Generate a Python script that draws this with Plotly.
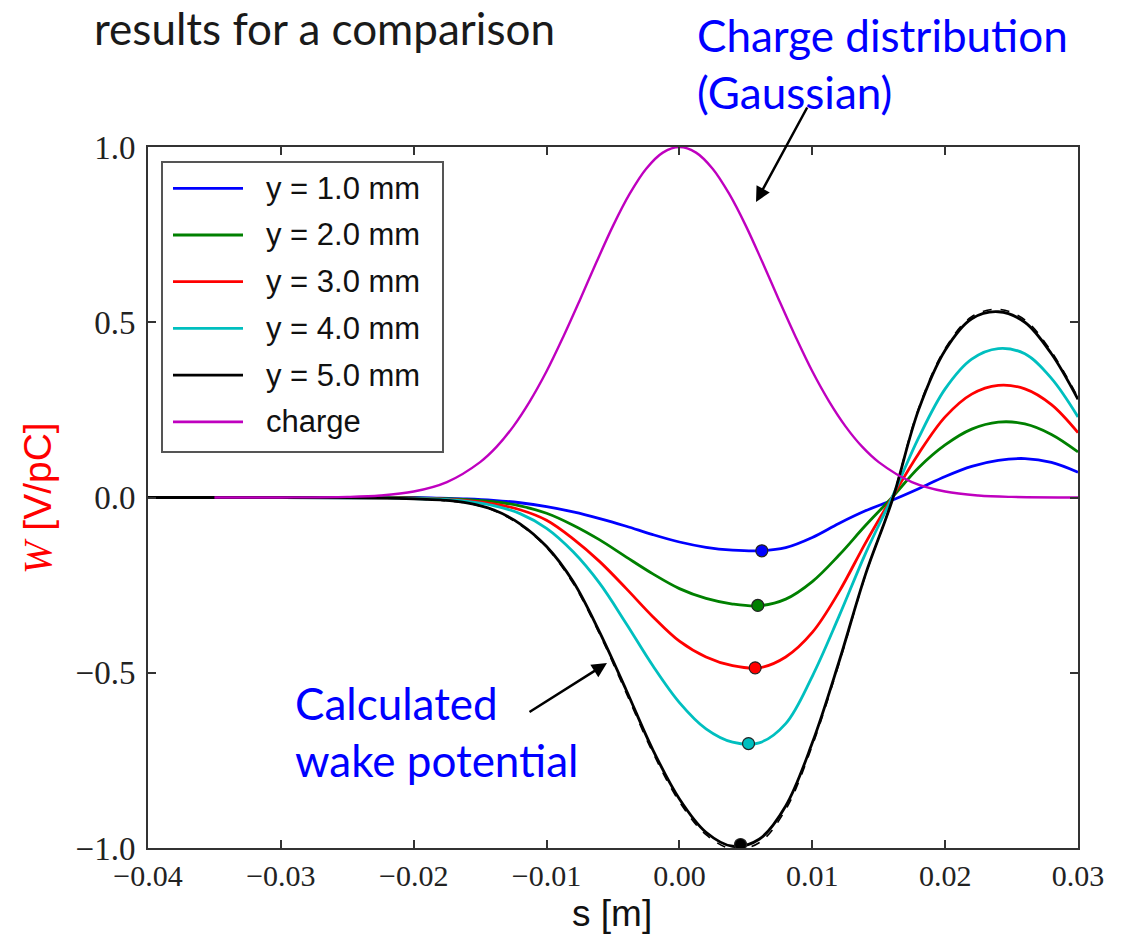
import plotly.graph_objects as go

# ---------------- data ----------------
s_w = [-0.040, -0.030, -0.025, -0.022, -0.020, -0.018, -0.016, -0.014, -0.012,
       -0.010, -0.008, -0.006, -0.004, -0.002, 0.000, 0.002, 0.004, 0.006,
       0.008, 0.010, 0.012, 0.014, 0.016, 0.018, 0.020, 0.022, 0.024, 0.026,
       0.028, 0.030]

w_y1 = [0.0, 0.0, 0.0, 0.0, 0.0, -0.002, -0.004, -0.008, -0.015,
        -0.026, -0.041, -0.060, -0.082, -0.106, -0.127, -0.142, -0.150, -0.152,
        -0.143, -0.114, -0.074, -0.038, -0.008, 0.025, 0.060, 0.089, 0.106, 0.111,
        0.100, 0.072]
w_y2 = [0.0, 0.0, 0.0, 0.0, -0.001, -0.003, -0.006, -0.012, -0.024,
        -0.045, -0.079, -0.121, -0.170, -0.218, -0.260, -0.288, -0.304, -0.309,
        -0.290, -0.240, -0.165, -0.080, 0.000, 0.085, 0.150, 0.195, 0.215, 0.210,
        0.180, 0.130]
w_y3 = [0.0, 0.0, 0.0, -0.001, -0.002, -0.004, -0.009, -0.018, -0.035,
        -0.065, -0.118, -0.183, -0.260, -0.340, -0.410, -0.455, -0.480, -0.486,
        -0.455, -0.385, -0.270, -0.130, 0.000, 0.125, 0.230, 0.295, 0.320, 0.310,
        0.265, 0.185]
w_y4 = [0.0, 0.0, -0.001, -0.001, -0.003, -0.005, -0.011, -0.023, -0.046,
        -0.088, -0.155, -0.245, -0.360, -0.480, -0.585, -0.660, -0.698, -0.700,
        -0.645, -0.510, -0.340, -0.160, 0.000, 0.170, 0.310, 0.395, 0.425, 0.410,
        0.340, 0.230]
w_y5 = [0.0, 0.0, -0.001, -0.002, -0.004, -0.007, -0.015, -0.035, -0.075,
        -0.140, -0.240, -0.385, -0.550, -0.720, -0.860, -0.955, -0.995, -0.975,
        -0.880, -0.700, -0.470, -0.220, -0.010, 0.250, 0.420, 0.510, 0.530, 0.500,
        0.410, 0.280]
# comparison (dashed) for y = 5.0 mm
w_y5_ref = [0.0, 0.0, -0.001, -0.002, -0.004, -0.008, -0.016, -0.037, -0.078,
            -0.143, -0.245, -0.390, -0.558, -0.728, -0.868, -0.962, -1.003, -0.985,
            -0.890, -0.708, -0.475, -0.222, -0.008, 0.254, 0.425, 0.516, 0.537, 0.507,
            0.416, 0.285]

s_q = [-0.035, -0.030, -0.025, -0.0225, -0.020, -0.0175, -0.015, -0.01375,
       -0.0125, -0.01125, -0.010, -0.00875, -0.0075, -0.00625, -0.005, -0.00375,
       -0.0025, -0.00125, 0.000, 0.00125, 0.0025, 0.00375, 0.005, 0.00625,
       0.0075, 0.00875, 0.010, 0.01125, 0.0125, 0.01375, 0.015, 0.0175,
       0.020, 0.0225, 0.025, 0.030]
charge = [0.0, 0.0001, 0.0017, 0.0057, 0.017, 0.044, 0.101, 0.145,
          0.203, 0.275, 0.360, 0.458, 0.563, 0.671, 0.775, 0.866,
          0.938, 0.984, 1.000, 0.984, 0.938, 0.866, 0.775, 0.671,
          0.563, 0.458, 0.360, 0.275, 0.203, 0.145, 0.101, 0.044,
          0.017, 0.0057, 0.0017, 0.0001]

min_s = [0.0062, 0.0059, 0.0057, 0.0052, 0.0046]
min_w = [-0.152, -0.308, -0.486, -0.702, -0.990]

names = ["y = 1.0 mm", "y = 2.0 mm", "y = 3.0 mm", "y = 4.0 mm", "y = 5.0 mm", "charge"]
colors = ["#0000ff", "#008000", "#ff0000", "#00bfbf", "#000000", "#bf00bf"]

x_ticks = [-0.04, -0.03, -0.02, -0.01, 0.00, 0.01, 0.02, 0.03]
y_ticks = [-1.0, -0.5, 0.0, 0.5, 1.0]

# ---------------- layout geometry ----------------
FW, FH = 1124, 939
L, R, T, B = 148, 1078, 147, 848
PW, PH = R - L, B - T


def px_x(p):
    return (p - L) / PW


def px_y(p):
    return (B - p) / PH


fig = go.Figure()

series = [w_y1, w_y2, w_y3, w_y4, w_y5]
for vals, col in zip(series, colors[:5]):
    fig.add_trace(go.Scatter(x=s_w, y=vals, mode="lines",
                             line=dict(color=col, width=2.8, shape="spline", smoothing=1.0),
                             showlegend=False, hoverinfo="skip"))

fig.add_trace(go.Scatter(x=s_w, y=w_y5_ref, mode="lines",
                         line=dict(color="#000000", width=1.6, dash="dash",
                                   shape="spline", smoothing=1.0),
                         showlegend=False, hoverinfo="skip"))

fig.add_trace(go.Scatter(x=s_q, y=charge, mode="lines",
                         line=dict(color=colors[5], width=2.4, shape="spline", smoothing=1.0),
                         showlegend=False, hoverinfo="skip"))

fig.add_trace(go.Scatter(x=min_s, y=min_w, mode="markers",
                         marker=dict(color=colors[:5], size=12,
                                     line=dict(color="#222222", width=1.2)),
                         showlegend=False, hoverinfo="skip"))

axis_common = dict(showline=True, linecolor="#333333", linewidth=2, mirror="allticks",
                   ticks="inside", ticklen=8, tickwidth=2, tickcolor="#333333",
                   showgrid=False, zeroline=False)

fig.update_xaxes(range=[-0.04, 0.03], tickvals=x_ticks, tickformat=".2f",
                 tickfont=dict(family="Liberation Serif", size=30, color="#222222"),
                 **axis_common)
fig.update_yaxes(range=[-1.0, 1.0], tickvals=y_ticks, tickformat=".1f",
                 ticklabelstandoff=4,
                 tickfont=dict(family="Liberation Serif", size=33, color="#222222"),
                 **axis_common)

shapes = []
annotations = []

# manual legend (matplotlib style)
shapes.append(dict(type="rect", xref="paper", yref="paper",
                   x0=px_x(162), x1=px_x(443), y0=px_y(452), y1=px_y(162),
                   line=dict(color="#555555", width=2), fillcolor="white", layer="above"))
row0, row_gap = 188.3, 46.7
for i, (nm, col) in enumerate(zip(names, colors)):
    yy = row0 + i * row_gap
    shapes.append(dict(type="line", xref="paper", yref="paper",
                       x0=px_x(173), x1=px_x(243), y0=px_y(yy), y1=px_y(yy),
                       line=dict(color=col, width=2.8), layer="above"))
    annotations.append(dict(xref="paper", yref="paper", x=px_x(264), y=px_y(yy),
                            text=nm, showarrow=False, xanchor="left", yanchor="middle",
                            font=dict(family="Liberation Sans", size=31, color="#111111")))

# axis titles
annotations.append(dict(xref="paper", yref="paper", x=px_x(612), y=px_y(913),
                        text="s [m]", showarrow=False, xanchor="center", yanchor="middle",
                        font=dict(family="Liberation Sans", size=37, color="#111111")))
annotations.append(dict(xref="paper", yref="paper", x=px_x(38), y=px_y(498),
                        text="<span style='font-family:Liberation Serif'><i>W</i></span> [V/pC]",
                        textangle=-90, showarrow=False, xanchor="center", yanchor="middle",
                        font=dict(family="Liberation Sans", size=39, color="#ff0000")))

# slide texts
annotations.append(dict(xref="paper", yref="paper", x=px_x(92), y=px_y(28),
                        text="results for a comparison", showarrow=False,
                        xanchor="left", yanchor="middle",
                        font=dict(family="Lato", size=44, color="#1a1a1a")))
annotations.append(dict(xref="paper", yref="paper", x=px_x(695), y=px_y(64),
                        text="Charge distribution<br>(Gaussian)", showarrow=False,
                        xanchor="left", yanchor="middle", align="left",
                        font=dict(family="Lato", size=44, color="#0000ff")))
annotations.append(dict(xref="paper", yref="paper", x=px_x(293), y=px_y(731),
                        text="Calculated<br>wake potential", showarrow=False,
                        xanchor="left", yanchor="middle", align="left",
                        font=dict(family="Lato", size=44, color="#0000ff")))

# arrows
annotations.append(dict(xref="paper", yref="paper", x=px_x(756), y=px_y(202),
                        ax=52, ay=-96, text="", showarrow=True, arrowhead=2,
                        arrowsize=1.2, arrowwidth=2.5, arrowcolor="#000000"))
annotations.append(dict(xref="paper", yref="paper", x=px_x(607), y=px_y(663),
                        ax=-79, ay=50, text="", showarrow=True, arrowhead=2,
                        arrowsize=1.2, arrowwidth=2.5, arrowcolor="#000000"))

fig.update_layout(width=FW, height=FH,
                  margin=dict(l=L, r=FW - R, t=T, b=FH - B, pad=0),
                  paper_bgcolor="white", plot_bgcolor="white",
                  shapes=shapes, annotations=annotations, showlegend=False)

fig.write_html("out.html")
